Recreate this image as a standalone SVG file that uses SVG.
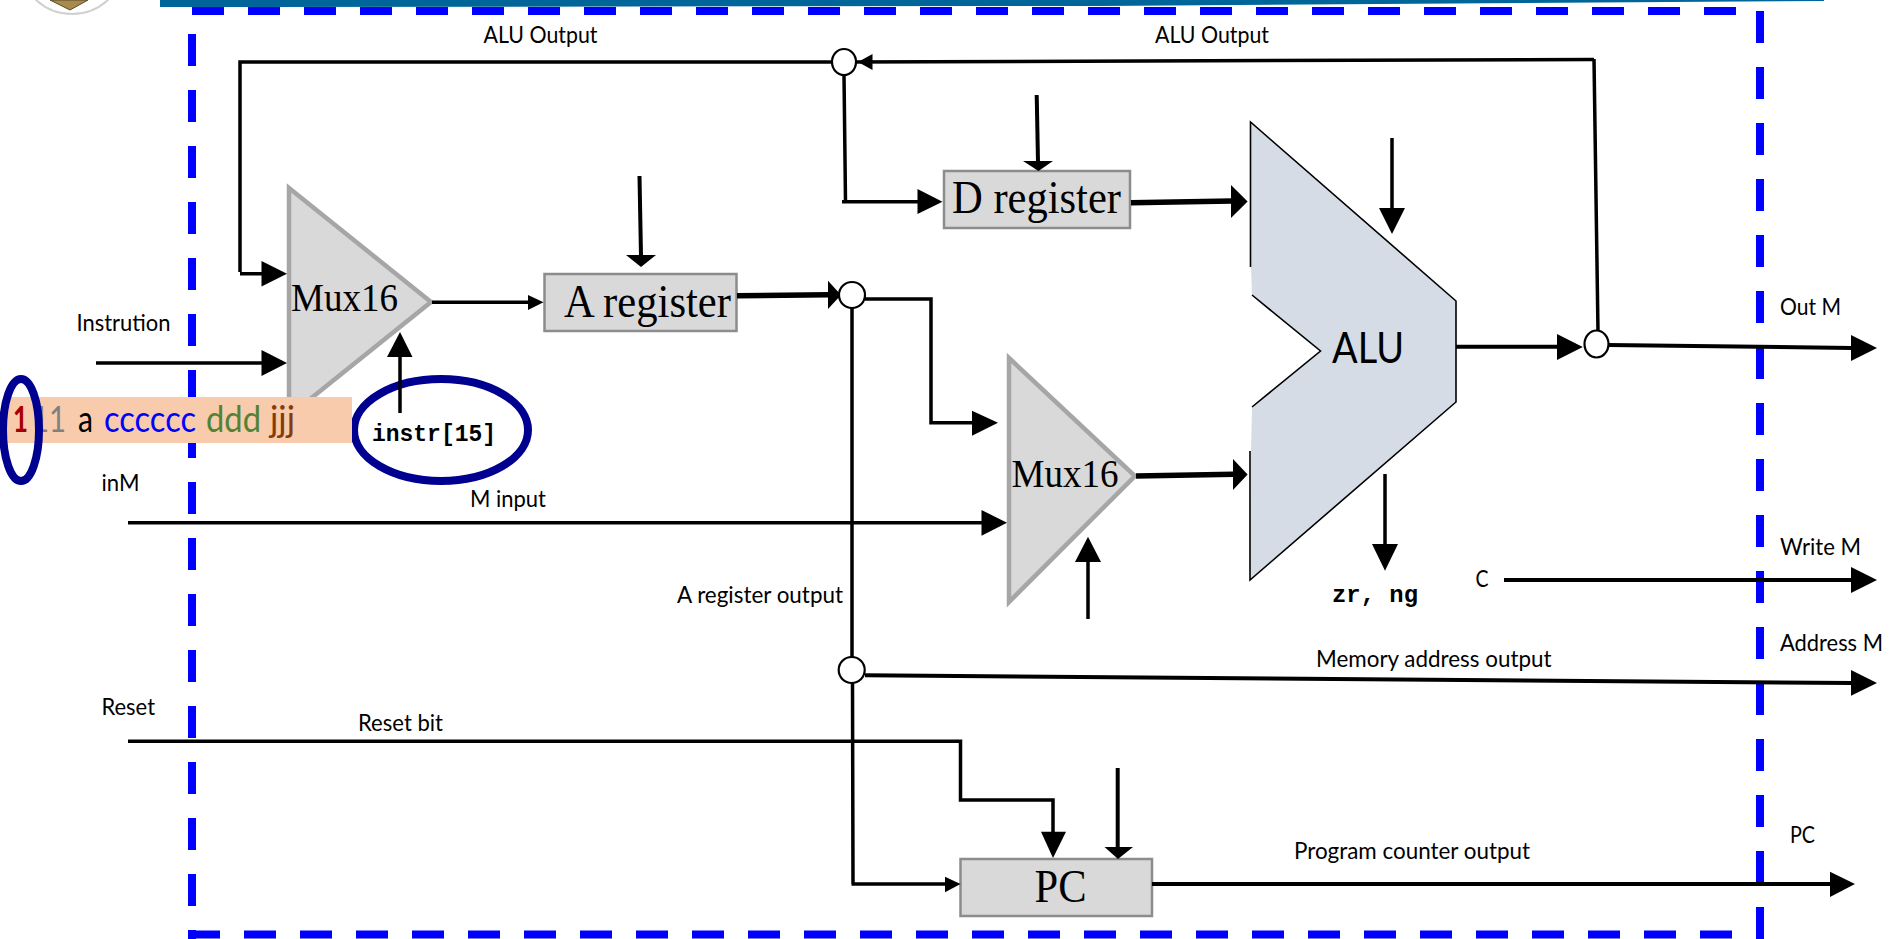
<svg xmlns="http://www.w3.org/2000/svg" width="1895" height="939" viewBox="0 0 1895 939">
<style>
text{fill:#000}
.l{font-family:"Lato","Liberation Sans",sans-serif;font-size:23px}
.t{font-family:"Liberation Serif",serif}
.m{font-family:"Liberation Mono",monospace;font-weight:bold;font-size:23px}
.b{font-family:"Lato","Liberation Sans",sans-serif;font-size:37px}
.reg{fill:#d9d9d9;stroke:#8c8c8c;stroke-width:2.5}
.mux{fill:#d9d9d9;stroke:#a6a6a6;stroke-width:4.5;stroke-linejoin:miter}
.dash{fill:none;stroke:#0000ff;stroke-width:8;stroke-dasharray:32 24}
.w{fill:none;stroke:#000;stroke-width:3.5}
.w4{fill:none;stroke:#000;stroke-width:4}
.w6{fill:none;stroke:#000;stroke-width:5.5}
.h{fill:#000}
.j{fill:#fff;stroke:#000;stroke-width:2.2}
.ring{fill:none;stroke:#000090;stroke-width:8}
</style>
<g id="header">
<polygon points="160,0 1824,0 1824,1 1100,6 160,7" fill="#006699"/>
<circle cx="72" cy="-39" r="53" fill="#fff" stroke="#d0d0d0" stroke-width="2"/>
<polygon points="50,0 88,0 70,10" fill="#a8894e" stroke="#5a4a2a" stroke-width="1"/>
</g>
<g id="boundary">
<path class="dash" d="M192 11H1740"/>
<path class="dash" d="M192 34V939"/>
<path class="dash" d="M1760 11V939"/>
<path class="dash" d="M188 934.5H1740"/>
</g>
<g id="mux-a">
<polygon class="mux" points="289,188 431,302 289,416"/>
<text class="t" x="291" y="311" font-size="39" textLength="107" lengthAdjust="spacingAndGlyphs">Mux16</text>
</g>
<g id="a-register">
<rect class="reg" x="544.5" y="274" width="192" height="57"/>
<text class="t" x="564" y="316.5" font-size="46" textLength="167" lengthAdjust="spacingAndGlyphs">A register</text>
</g>
<g id="d-register">
<rect class="reg" x="944" y="171" width="186" height="57"/>
<text class="t" x="952" y="213" font-size="46" textLength="169" lengthAdjust="spacingAndGlyphs">D register</text>
</g>
<g id="mux-b">
<polygon class="mux" points="1009,358 1135,476 1009,602"/>
<text class="t" x="1011.500" y="486.500" font-size="39" textLength="107" lengthAdjust="spacingAndGlyphs">Mux16</text>
</g>
<g id="alu">
<polygon points="1250.500,122 1456,301 1456,402 1250,580 1251,451 1252,407 1320.500,351 1252,295 1251,267" fill="#d6dce5"/>
<path d="M1250.500 267V122L1456 301V402L1250 580V451M1252 295L1320.500 351L1252 407" fill="none" stroke="#000" stroke-width="1.600"/>
<text x="1332" y="362.500" font-family="Lato,'Liberation Sans',sans-serif" font-size="43" textLength="72" lengthAdjust="spacingAndGlyphs">ALU</text>
</g>
<g id="pc">
<rect class="reg" x="960.500" y="859" width="191.500" height="57"/>
<text class="t" x="1034.500" y="901.500" font-size="46" textLength="52" lengthAdjust="spacingAndGlyphs">PC</text>
</g>
<g id="instr-ring">
<ellipse class="ring" cx="441" cy="430" rx="87" ry="51" fill="#fff"/>
</g>
<g id="connectors">
<path class="w" d="M1594 59.500L846 62M844 62H240V272M240 273.700H262"/>
<polygon class="h" points="287,273.700 261.500,261 261.500,286.500"/>
<path class="w" d="M96 363H262"/>
<polygon class="h" points="287,363 261.500,350 261.500,376"/>
<polygon class="h" points="858,62 872.500,54 872.500,70"/>
<path class="w" d="M1594 59L1598 332"/>
<path class="w" d="M844 75L845.500 201.700M842 201.700H918"/>
<polygon class="h" points="942.500,201.700 917.500,189 917.500,214"/>
<path class="w4" d="M1036.700 95L1038 162"/>
<polygon class="h" points="1038.500,171 1023,161 1053,161"/>
<path class="w4" d="M639.500 176L641 256"/>
<polygon class="h" points="641,267 626,255 656,255"/>
<path class="w" d="M432 302.300H529"/>
<polygon class="h" points="543.500,302.300 528,295 528,310"/>
<path class="w6" d="M737 295.700L829 294.700"/>
<polygon class="h" points="841,295 828,280.700 828,309"/>
<path class="w" d="M865 299H931V422.700H973"/>
<polygon class="h" points="998,422.700 972,410.700 972,435.700"/>
<path class="w" d="M852 308V657M852.500 683L853 884M851.500 884H946"/>
<polygon class="h" points="960.500,884 945,876.700 945,892.300"/>
<path class="w" d="M128 522.700H983"/>
<polygon class="h" points="1007,522.700 981.500,510 981.500,535.700"/>
<path class="w" d="M128 741.300H960.500V800H1053V833"/>
<polygon class="h" points="1053,858 1041,831.700 1066,831.700"/>
<path class="w4" d="M1117.700 768V848"/>
<polygon class="h" points="1118,859 1104.500,847 1133,847"/>
<path class="w4" d="M1152 884H1831"/>
<polygon class="h" points="1855,884 1830,871.700 1830,897"/>
<path class="w4" d="M865 675.300L1852 683"/>
<polygon class="h" points="1877,683 1851,670 1851,695.700"/>
<path class="w4" d="M1504 580H1852"/>
<polygon class="h" points="1877,580 1851,567 1851,593"/>
<path class="w6" d="M1131 202.700L1232 201"/>
<polygon class="h" points="1247.600,201.500 1231,185 1231,218"/>
<path class="w6" d="M1136 476L1234 474.300"/>
<polygon class="h" points="1247.600,474.500 1233,459 1233,490"/>
<path class="w" d="M1392 138V209"/>
<polygon class="h" points="1392,234 1379,208 1405,208"/>
<path class="w" d="M1385 474V545"/>
<polygon class="h" points="1385,570.700 1372,544 1398,544"/>
<path class="w4" d="M1456 346.700H1558"/>
<polygon class="h" points="1582.800,347 1557,334 1557,360"/>
<path class="w4" d="M1608 345L1852 348"/>
<polygon class="h" points="1877,348 1851,335 1851,361"/>
<path class="w" d="M1088 619V561"/>
<polygon class="h" points="1088,536.700 1075,562 1101,562"/>
<path class="w" d="M400 413V356"/>
<polygon class="h" points="400,332 387,357 412.500,357"/>
</g>
<g id="junction-top"><ellipse class="j" cx="844" cy="62" rx="12" ry="13"/></g>
<g id="junction-out"><ellipse class="j" cx="1596.500" cy="344" rx="12" ry="13.500"/></g>
<g id="junction-a"><ellipse class="j" cx="852" cy="295" rx="13" ry="13"/></g>
<g id="junction-addr"><ellipse class="j" cx="851.700" cy="670" rx="13" ry="13"/></g>
<g id="instruction">
<rect x="5" y="397" width="347" height="46" fill="#f8cbad"/>
<text class="b" x="13" y="432" font-weight="bold" style="fill:#a80000" textLength="15" lengthAdjust="spacingAndGlyphs">1</text>
<text class="b" x="32" y="432" style="fill:#808080" textLength="34" lengthAdjust="spacingAndGlyphs">11</text>
<text class="b" x="78" y="432" textLength="15" lengthAdjust="spacingAndGlyphs">a</text>
<text class="b" x="104" y="432" style="fill:#0000ff" textLength="92" lengthAdjust="spacingAndGlyphs">cccccc</text>
<text class="b" x="206" y="432" style="fill:#548235" textLength="55" lengthAdjust="spacingAndGlyphs">ddd</text>
<text class="b" x="270" y="432" style="fill:#843c0c" textLength="25" lengthAdjust="spacingAndGlyphs">jjj</text>
<ellipse class="ring" cx="21" cy="430" rx="18" ry="51"/>
</g>
<g id="labels">
<text class="l" x="483.500" y="43" textLength="114" lengthAdjust="spacingAndGlyphs">ALU Output</text>
<text class="l" x="1155" y="43" textLength="114" lengthAdjust="spacingAndGlyphs">ALU Output</text>
<text class="l" x="76.500" y="331" textLength="94" lengthAdjust="spacingAndGlyphs">Instrution</text>
<text class="l" x="101.500" y="491" textLength="38" lengthAdjust="spacingAndGlyphs">inM</text>
<text class="l" x="470" y="506.500" textLength="76" lengthAdjust="spacingAndGlyphs">M input</text>
<text class="l" x="677" y="602.500" textLength="166" lengthAdjust="spacingAndGlyphs">A register output</text>
<text class="l" x="101.500" y="715" textLength="53.500" lengthAdjust="spacingAndGlyphs">Reset</text>
<text class="l" x="358" y="730.500" textLength="85" lengthAdjust="spacingAndGlyphs">Reset bit</text>
<text class="l" x="1316" y="666.500" textLength="235.500" lengthAdjust="spacingAndGlyphs">Memory address output</text>
<text class="l" x="1294" y="859" textLength="236" lengthAdjust="spacingAndGlyphs">Program counter output</text>
<text class="l" x="1780" y="315" textLength="61" lengthAdjust="spacingAndGlyphs">Out M</text>
<text class="l" x="1780" y="555" textLength="81" lengthAdjust="spacingAndGlyphs">Write M</text>
<text class="l" x="1780" y="651" textLength="103" lengthAdjust="spacingAndGlyphs">Address M</text>
<text class="l" x="1790" y="842.500" textLength="25" lengthAdjust="spacingAndGlyphs">PC</text>
<text class="l" x="1475.500" y="586.500" font-size="23" textLength="13" lengthAdjust="spacingAndGlyphs">C</text>
<text class="m" x="372" y="441" textLength="124" lengthAdjust="spacingAndGlyphs">instr[15]</text>
<text class="m" x="1332" y="601.500" textLength="86" lengthAdjust="spacingAndGlyphs">zr, ng</text>
</g>
</svg>
